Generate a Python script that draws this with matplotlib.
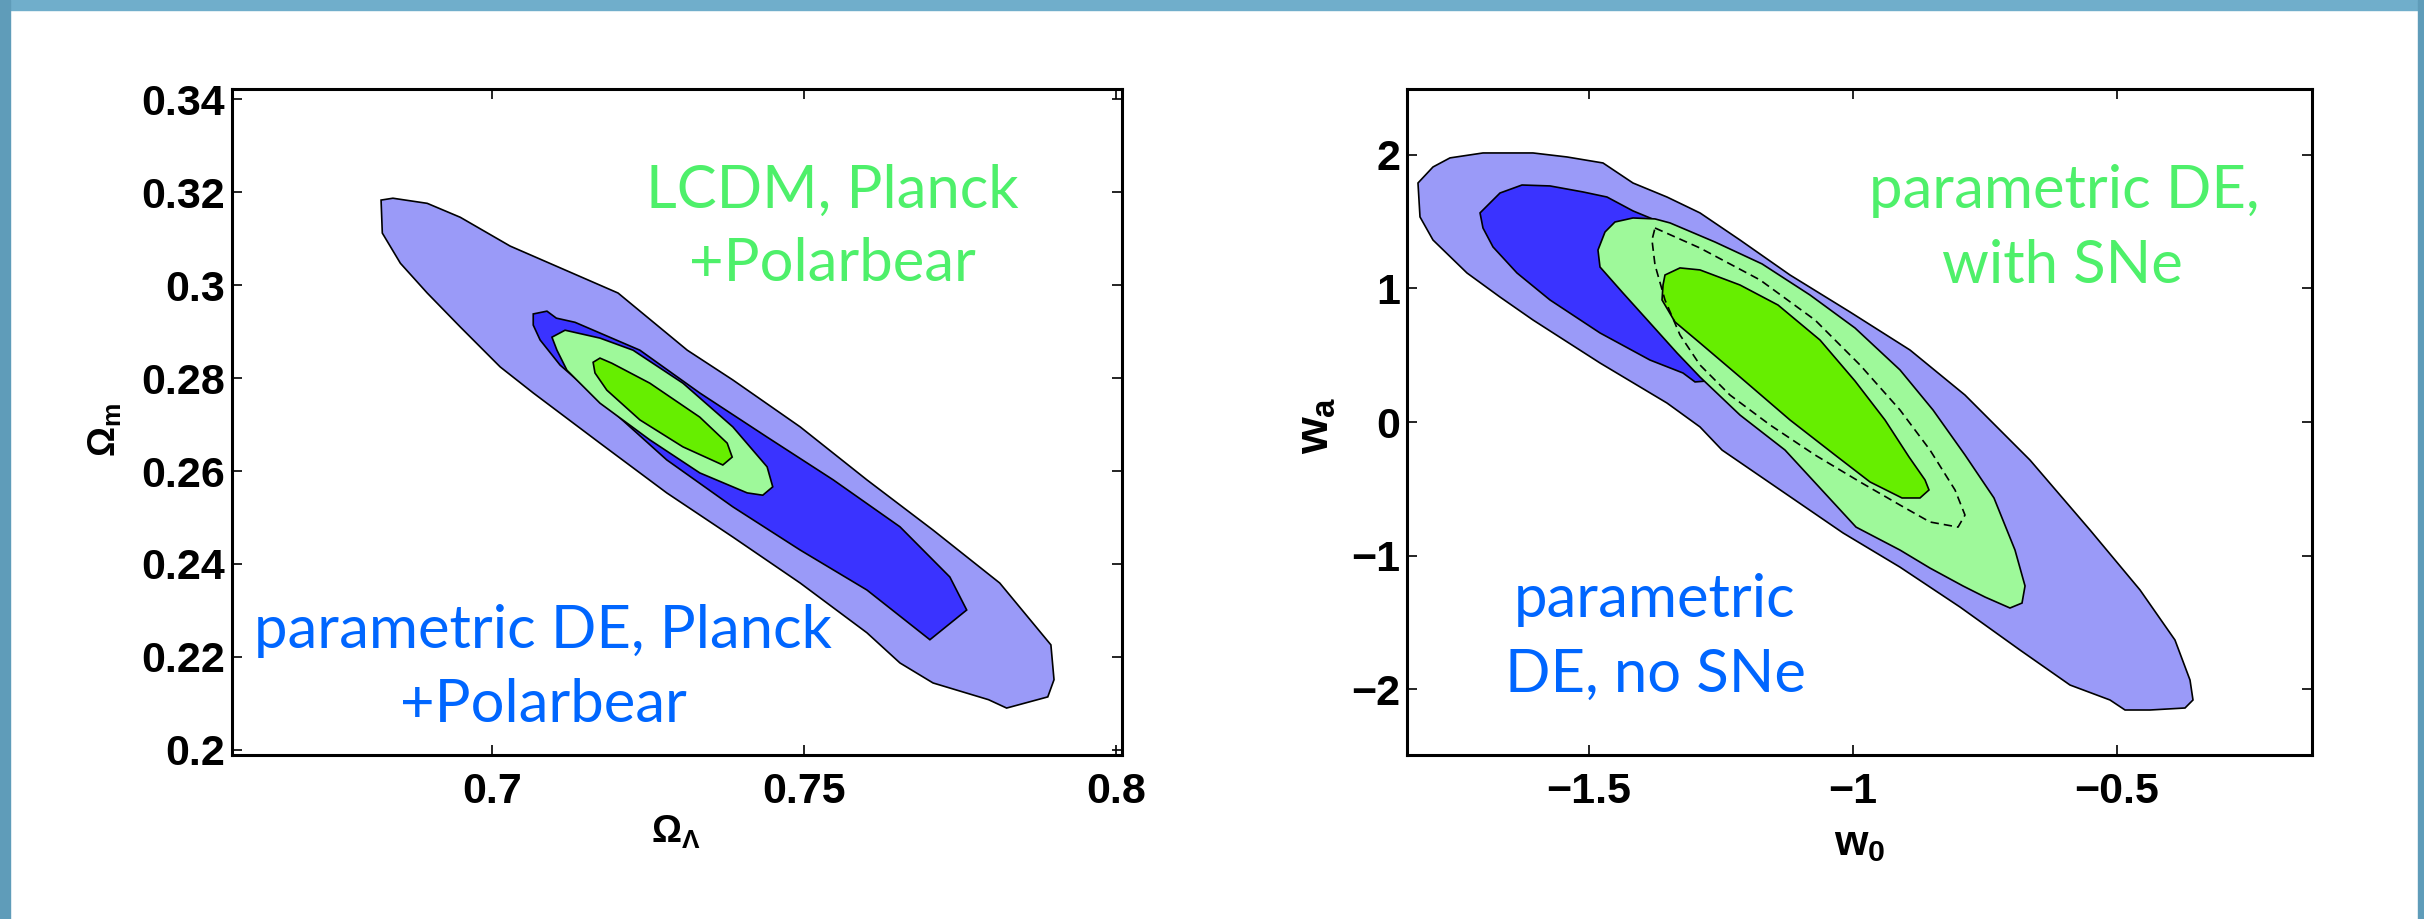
import matplotlib.pyplot as plt
from matplotlib.patches import Rectangle

# ---------------------------------------------------------------
# contour outlines (data units)
# left panel : Omega_Lambda (x) vs Omega_m (y)
# ---------------------------------------------------------------
# parametric DE, 2 sigma (light purple)
ol_de2_x = [0.6822, 0.6841, 0.6896, 0.6949, 0.7029, 0.7202, 0.7313, 0.7386, 0.7494,
            0.7601, 0.7707, 0.7814, 0.7896, 0.7901, 0.7891, 0.7825, 0.7796, 0.7707,
            0.7654, 0.7601, 0.7494, 0.7386, 0.7280, 0.7173, 0.7066, 0.7013, 0.6949,
            0.6896, 0.6853, 0.6824]
ol_de2_y = [0.3183, 0.3187, 0.3176, 0.3146, 0.3084, 0.2983, 0.2860, 0.2796, 0.2695,
            0.2581, 0.2473, 0.2359, 0.2226, 0.2151, 0.2114, 0.2090, 0.2108, 0.2144,
            0.2187, 0.2252, 0.2359, 0.2458, 0.2553, 0.2660, 0.2768, 0.2824, 0.2910,
            0.2983, 0.3047, 0.3112]
# parametric DE, 1 sigma (dark blue)
ol_de1_x = [0.7066, 0.7088, 0.7103, 0.7133, 0.7237, 0.7333, 0.7441, 0.7547, 0.7654,
            0.7734, 0.7761, 0.7702, 0.7601, 0.7494, 0.7386, 0.7280, 0.7173, 0.7109,
            0.7077, 0.7066]
ol_de1_y = [0.2938, 0.2944, 0.2929, 0.2920, 0.2860, 0.2768, 0.2673, 0.2581, 0.2480,
            0.2372, 0.2301, 0.2237, 0.2344, 0.2430, 0.2523, 0.2624, 0.2753, 0.2828,
            0.2882, 0.2914]
# LCDM, 2 sigma (light green)
ol_lc2_x = [0.7096, 0.7117, 0.7173, 0.7226, 0.7306, 0.7386, 0.7441, 0.7450, 0.7434,
            0.7409, 0.7333, 0.7253, 0.7173, 0.7120, 0.7104]
ol_lc2_y = [0.2888, 0.2903, 0.2886, 0.2860, 0.2789, 0.2695, 0.2609, 0.2566, 0.2548,
            0.2553, 0.2596, 0.2667, 0.2746, 0.2817, 0.2860]
# LCDM, 1 sigma (green)
ol_lc1_x = [0.7162, 0.7173, 0.7192, 0.7253, 0.7333, 0.7377, 0.7385, 0.7370, 0.7306,
            0.7237, 0.7184, 0.7165]
ol_lc1_y = [0.2834, 0.2843, 0.2832, 0.2789, 0.2716, 0.2660, 0.2630, 0.2613, 0.2652,
            0.2710, 0.2774, 0.2811]

# ---------------------------------------------------------------
# right panel : w0 (x) vs wa (y)
# ---------------------------------------------------------------
# no SNe, 2 sigma
w_ns2_x = [-1.8239, -1.7955, -1.7633, -1.7008, -1.6061, -1.5417, -1.4735, -1.4167,
           -1.3523, -1.2898, -1.2140, -1.1193, -1.0057, -0.8920, -0.7879, -0.6648,
           -0.5511, -0.4564, -0.3902, -0.3617, -0.3561, -0.3712, -0.4375, -0.4848,
           -0.5133, -0.5890, -0.6837, -0.7973, -0.9110, -1.0189, -1.2481, -1.2898,
           -1.3523, -1.4792, -1.6061, -1.6686, -1.7311, -1.7955, -1.8201]
w_ns2_y = [1.790, 1.910, 1.978, 2.015, 2.015, 1.985, 1.940, 1.790, 1.685, 1.566,
           1.363, 1.101, 0.824, 0.539, 0.202, -0.285, -0.809, -1.258, -1.633, -1.933,
           -2.082, -2.142, -2.157, -2.157, -2.082, -1.970, -1.708, -1.386, -1.087,
           -0.831, -0.210, -0.037, 0.142, 0.442, 0.764, 0.936, 1.116, 1.363, 1.536]
# no SNe, 1 sigma
w_ns1_x = [-1.7064, -1.6686, -1.6269, -1.5739, -1.5114, -1.4659, -1.4167, -1.3750,
           -1.3087, -1.2898, -1.2519, -1.2992, -1.3220, -1.3845, -1.4792, -1.5739,
           -1.6364, -1.6818, -1.7008]
w_ns1_y = [1.566, 1.715, 1.775, 1.768, 1.723, 1.685, 1.581, 1.513, 1.288, 0.764,
           0.315, 0.300, 0.367, 0.464, 0.667, 0.914, 1.116, 1.311, 1.453]
# with SNe, 2 sigma
w_sn2_x = [-1.4792, -1.4830, -1.4697, -1.4508, -1.4167, -1.3750, -1.3466, -1.2614,
           -1.1723, -1.0814, -0.9962, -0.9110, -0.8485, -0.7879, -0.7330, -0.6932,
           -0.6742, -0.6799, -0.7027, -0.7500, -0.7917, -0.8542, -0.9110, -0.9943,
           -1.1288, -1.2140, -1.2898, -1.3333, -1.3845, -1.4356]
w_sn2_y = [1.161, 1.288, 1.423, 1.498, 1.528, 1.521, 1.491, 1.348, 1.184, 0.951,
           0.704, 0.390, 0.090, -0.247, -0.569, -0.959, -1.228, -1.356, -1.393,
           -1.311, -1.228, -1.094, -0.959, -0.787, -0.210, 0.052, 0.337, 0.517,
           0.742, 0.966]
# with SNe, 1 sigma
w_sn1_x = [-1.3598, -1.3561, -1.3277, -1.2898, -1.2140, -1.1420, -1.0625, -0.9962,
           -0.9394, -0.8939, -0.8636, -0.8561, -0.8731, -0.9072, -0.9678, -1.0341,
           -1.1193, -1.2140, -1.2898, -1.3371, -1.3617]
w_sn1_y = [1.026, 1.101, 1.154, 1.139, 1.026, 0.876, 0.614, 0.307, 0.015, -0.262,
           -0.434, -0.509, -0.569, -0.569, -0.449, -0.247, 0.015, 0.337, 0.592,
           0.749, 0.914]
# dashed contour
w_dash_x = [-1.3750, -1.2898, -1.1761, -1.0720, -0.9867, -0.9110, -0.8542, -0.8068,
            -0.7879, -0.8011, -0.8542, -0.9110, -0.9867, -1.0720, -1.1572, -1.2330,
            -1.2898, -1.3277, -1.3561, -1.3750, -1.3807]
w_dash_y = [1.453, 1.303, 1.064, 0.764, 0.427, 0.090, -0.210, -0.509, -0.697, -0.787,
            -0.749, -0.622, -0.449, -0.247, -0.022, 0.202, 0.427, 0.652, 0.914,
            1.176, 1.363]

# ticks
ol_xticks = [0.7, 0.75, 0.8]
ol_xlabels = ['0.7', '0.75', '0.8']
ol_yticks = [0.2, 0.22, 0.24, 0.26, 0.28, 0.3, 0.32, 0.34]
ol_ylabels = ['0.2', '0.22', '0.24', '0.26', '0.28', '0.3', '0.32', '0.34']
w_xticks = [-1.5, -1.0, -0.5]
w_xlabels = ['\u22121.5', '\u22121', '\u22120.5']
w_yticks = [-2, -1, 0, 1, 2]
w_ylabels = ['\u22122', '\u22121', '0', '1', '2']

# colours
c_pur = '#9a9af8'
c_blu = '#3a33ff'
c_lgr = '#9ef99a'
c_grn = '#66ee00'
txt_green = '#4ef06a'
txt_blue = '#0066ff'

plt.rcParams['mathtext.fontset'] = 'custom'
plt.rcParams['mathtext.rm'] = 'Liberation Sans:bold'
plt.rcParams['mathtext.bf'] = 'Liberation Sans:bold'
plt.rcParams['mathtext.it'] = 'Liberation Sans:bold'

W, H = 2424, 919
fig = plt.figure(figsize=(W / 100, H / 100), dpi=100)
fig.patch.set_facecolor('white')

# slide frame
fig.add_artist(Rectangle((0, 1 - 10 / H), 1, 10 / H, transform=fig.transFigure,
                         color='#70aecb', zorder=0))
fig.add_artist(Rectangle((0, 0), 10 / W, 1, transform=fig.transFigure,
                         color='#5f9cb9', zorder=0))
fig.add_artist(Rectangle((2418 / W, 0), 6 / W, 1, transform=fig.transFigure,
                         color='#5f9cb9', zorder=0))


def add_axes(x0, x1, y0=89, y1=755):
    return fig.add_axes([x0 / W, 1 - y1 / H, (x1 - x0) / W, (y1 - y0) / H])


def style(ax, xt, xl, yt, yl):
    ax.set_xticks(xt)
    ax.set_xticklabels(xl, fontsize=31, fontweight='bold', family='Liberation Sans')
    ax.set_yticks(yt)
    ax.set_yticklabels(yl, fontsize=31, fontweight='bold', family='Liberation Sans')
    ax.tick_params(direction='in', length=7, width=1.2, top=True, right=True)
    ax.tick_params(axis='x', pad=12)
    ax.tick_params(axis='y', pad=5)
    for s in ax.spines.values():
        s.set_linewidth(2.2)


# ---- left panel
axL = add_axes(232, 1122)
axL.fill(ol_de2_x, ol_de2_y, facecolor=c_pur, edgecolor='k', lw=1.2)
axL.fill(ol_de1_x, ol_de1_y, facecolor=c_blu, edgecolor='k', lw=1.2)
axL.fill(ol_lc2_x, ol_lc2_y, facecolor=c_lgr, edgecolor='k', lw=1.2)
axL.fill(ol_lc1_x, ol_lc1_y, facecolor=c_grn, edgecolor='k', lw=1.2)
axL.set_xlim(0.6583, 0.8010)
axL.set_ylim(0.1989, 0.3422)
style(axL, ol_xticks, ol_xlabels, ol_yticks, ol_ylabels)

# ---- right panel
axR = add_axes(1407, 2312)
axR.fill(w_ns2_x, w_ns2_y, facecolor=c_pur, edgecolor='k', lw=1.2)
axR.fill(w_ns1_x, w_ns1_y, facecolor=c_blu, edgecolor='k', lw=1.2)
axR.fill(w_sn2_x, w_sn2_y, facecolor=c_lgr, edgecolor='k', lw=1.2)
axR.fill(w_sn1_x, w_sn1_y, facecolor=c_grn, edgecolor='k', lw=1.2)
axR.plot(w_dash_x + w_dash_x[:1], w_dash_y + w_dash_y[:1], 'k--', lw=1.2,
         dashes=(5, 3))
axR.set_xlim(-1.8447, -0.1307)
axR.set_ylim(-2.494, 2.494)
style(axR, w_xticks, w_xlabels, w_yticks, w_ylabels)


def ftext(x, y, s, **kw):
    fig.text(x / W, 1 - y / H, s, **kw)


# axis labels
ftext(105, 430, r'$\Omega_m$', fontsize=27, rotation=90, ha='center', va='center')
ftext(676, 832, r'$\Omega_\Lambda$', fontsize=27, ha='center', va='center')
ftext(1316, 425, r'$w_a$', fontsize=34, rotation=90, ha='center', va='center')
ftext(1860, 822, r'$w_0$', fontsize=31, ha='center', va='top')

# annotations
ann = dict(family='Lato', fontsize=43, ha='center', va='baseline')
ftext(832, 208, 'LCDM, Planck', color=txt_green, **ann)
ftext(832, 281, '+Polarbear', color=txt_green, **ann)
ftext(543, 648, 'parametric DE, Planck', color=txt_blue, **ann)
ftext(543, 722, '+Polarbear', color=txt_blue, **ann)
ftext(2064, 208, 'parametric DE,', color=txt_green, **ann)
ftext(2062, 283, 'with SNe', color=txt_green, **ann)
ftext(1655, 617, 'parametric', color=txt_blue, **ann)
ftext(1655, 692, 'DE, no SNe', color=txt_blue, **ann)

fig.savefig('out.png', dpi=100)
